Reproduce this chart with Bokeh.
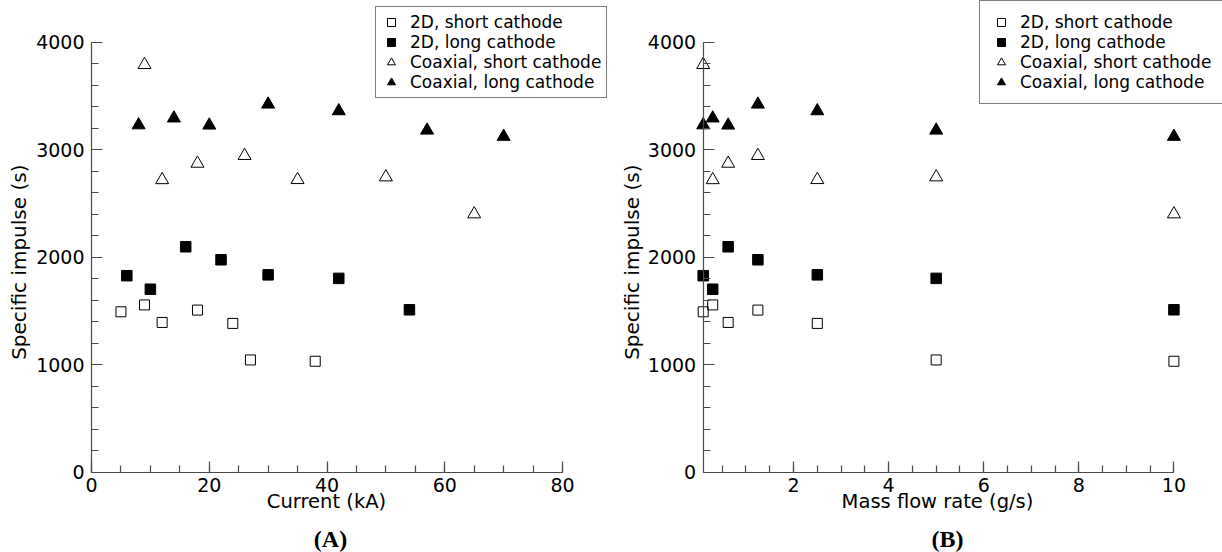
import math
from bokeh.plotting import figure
from bokeh.models import Range1d, SingleIntervalTicker, Legend, LegendItem, Label
from bokeh.layouts import row
from bokeh.embed import file_html
from bokeh.resources import INLINE

# ---- data ----
current_2d_short = [5, 9, 12, 18, 24, 27, 38]
current_2d_long = [6, 10, 16, 22, 30, 42, 54]
current_coax_short = [9, 12, 18, 26, 35, 50, 65]
current_coax_long = [8, 14, 20, 30, 42, 57, 70]

mass_flow = [0.1, 0.3, 0.625, 1.25, 2.5, 5, 10]

isp_2d_short = [1492, 1556, 1393, 1508, 1384, 1044, 1032]
isp_2d_long = [1828, 1702, 2097, 1976, 1836, 1803, 1511]
isp_coax_short = [3790, 2719, 2872, 2944, 2720, 2745, 2401]
isp_coax_long = [3229, 3293, 3227, 3422, 3360, 3180, 3122]

series_labels = ["2D, short cathode", "2D, long cathode",
                 "Coaxial, short cathode", "Coaxial, long cathode"]
y_label = "Specific impulse (s)"

SANS = "DejaVu Sans"
AXIS_COLOR = "#4a4a4a"
H = 552


def style_axes(p):
    for ax in (p.xaxis[0], p.yaxis[0]):
        ax.axis_line_color = AXIS_COLOR
        ax.axis_line_width = 1.2
        ax.major_tick_line_color = AXIS_COLOR
        ax.minor_tick_line_color = AXIS_COLOR
        ax.major_tick_line_width = 1.2
        ax.minor_tick_line_width = 1.2
        ax.major_tick_in = 11
        ax.major_tick_out = 0
        ax.minor_tick_in = 7
        ax.minor_tick_out = 0
        ax.major_label_text_font = SANS
        ax.major_label_text_font_size = "19px"
        ax.major_label_text_color = "black"
    p.xaxis[0].major_label_standoff = 6
    p.yaxis[0].major_label_standoff = 7


def make_panel(xs, x_range, xlabel, title, x_interval, x_minor, width,
               xbounds, yfixed, legend_loc, legend_pad,
               ylab_x, xlab_x, title_x):
    # the frame covers the whole canvas; the axes sit at fixed data locations
    p = figure(width=width, height=H, x_range=x_range,
               y_range=Range1d(-747.0, 4387.9), output_backend="svg",
               toolbar_location=None, min_border_left=0,
               min_border_right=0, min_border_top=0, min_border_bottom=0)
    p.outline_line_color = None
    p.grid.visible = False
    p.background_fill_color = "white"
    p.border_fill_color = "white"

    p.xaxis.ticker = SingleIntervalTicker(interval=x_interval, num_minor_ticks=x_minor)
    p.yaxis.ticker = SingleIntervalTicker(interval=1000, num_minor_ticks=5)
    p.xaxis.bounds = xbounds
    p.yaxis.bounds = (0, 4000)
    p.xaxis.fixed_location = 0
    p.yaxis.fixed_location = yfixed
    style_axes(p)

    r1 = p.scatter(xs[0], isp_2d_short, marker="square", size=10,
                   line_color="black", fill_color=None, line_width=1)
    r2 = p.scatter(xs[1], isp_2d_long, marker="square", size=10.5,
                   line_color="black", fill_color="black", line_width=1)
    r3 = p.scatter(xs[2], isp_coax_short, marker="triangle", size=13,
                   line_color="black", fill_color=None, line_width=1)
    r4 = p.scatter(xs[3], isp_coax_long, marker="triangle", size=13,
                   line_color="black", fill_color="black", line_width=1)

    items = [LegendItem(label=lab, renderers=[r])
             for lab, r in zip(series_labels, [r1, r2, r3, r4])]
    legend = Legend(items=items, location=legend_loc,
                    label_text_font=SANS, label_text_font_size="17px",
                    label_text_color="black",
                    glyph_width=20, glyph_height=20, label_height=20,
                    spacing=0, padding=legend_pad, margin=0, label_standoff=9,
                    border_line_color="black", border_line_width=1,
                    background_fill_color="white", background_fill_alpha=1.0)
    p.add_layout(legend)

    # axis titles and panel caption (screen units, y measured from the bottom)
    p.add_layout(Label(x=ylab_x, y=H - 261.7, x_units="screen", y_units="screen",
                       text=y_label, angle=math.pi / 2, text_align="center",
                       text_baseline="middle", text_font=SANS,
                       text_font_size="20px", text_color="black"))
    p.add_layout(Label(x=xlab_x, y=H - 501, x_units="screen", y_units="screen",
                       text=xlabel, text_align="center", text_baseline="middle",
                       text_font=SANS, text_font_size="19.5px", text_color="black"))
    p.add_layout(Label(x=title_x, y=H - 538, x_units="screen", y_units="screen",
                       text=title, text_align="center", text_baseline="middle",
                       text_font="Liberation Serif", text_font_style="bold",
                       text_font_size="24px", text_color="black"))
    return p


# left: x=0 at 91 px, x=80 at 562 px
sx_l = (562 - 91) / 80
left = make_panel([current_2d_short, current_2d_long, current_coax_short, current_coax_long],
                  Range1d(-91 / sx_l, 80 + (610 - 562) / sx_l), "Current (kA)", "(A)",
                  20, 4, 610, xbounds=(0, 80), yfixed=0,
                  legend_loc=(375, 454), legend_pad=5,
                  ylab_x=18.3, xlab_x=326, title_x=330)

# right: x=0.1 at 92.7 px, x=10 at 563.4 px (within the right canvas)
sx_r = (563.4 - 92.7) / 9.9
right = make_panel([mass_flow, mass_flow, mass_flow, mass_flow],
                   Range1d(0.1 - 92.7 / sx_r, 10 + (612 - 563.4) / sx_r),
                   "Mass flow rate (g/s)", "(B)", 2, 4, 612,
                   xbounds=(0.1, 10), yfixed=0.1,
                   legend_loc=(369, 448), legend_pad=11,
                   ylab_x=21, xlab_x=327, title_x=337)

layout = row(left, right)
open("out.html", "w").write(file_html(layout, INLINE))
